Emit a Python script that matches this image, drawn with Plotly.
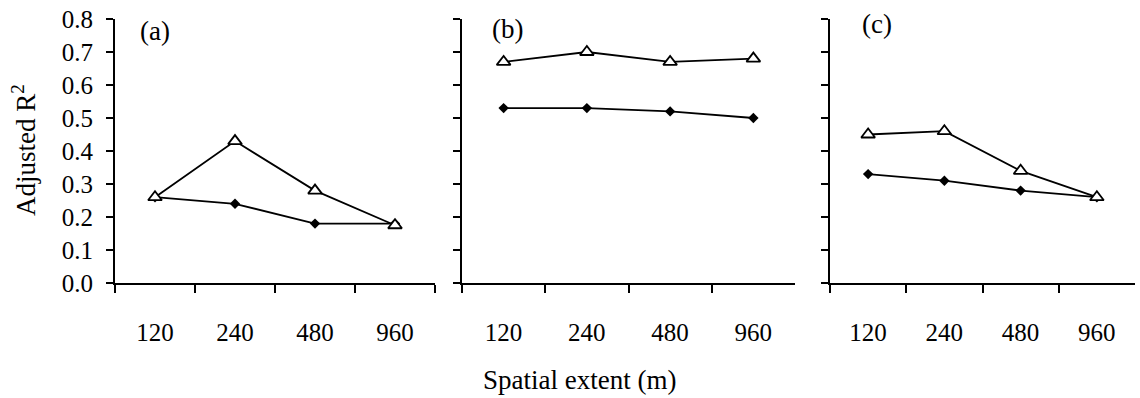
import plotly.graph_objects as go

extents = ["120", "240", "480", "960"]
panels = ["(a)", "(b)", "(c)"]
tri_vals = [
    [0.26, 0.43, 0.28, 0.175],
    [0.67, 0.70, 0.67, 0.68],
    [0.45, 0.46, 0.34, 0.26],
]
dia_vals = [
    [0.26, 0.24, 0.18, 0.18],
    [0.53, 0.53, 0.52, 0.50],
    [0.33, 0.31, 0.28, 0.26],
]
y_ticks = [0.0, 0.1, 0.2, 0.3, 0.4, 0.5, 0.6, 0.7, 0.8]

W, H = 1140, 398
FONT = "Liberation Serif, Times New Roman, serif"
x_doms_px = [(115, 435), (462, 795), (830, 1135)]
y_top_px, y_bot_px = 19, 283
ydom = [1 - y_bot_px / H, 1 - y_top_px / H]

fig = go.Figure()
for i in range(3):
    xa = "x" if i == 0 else f"x{i+1}"
    ya = "y" if i == 0 else f"y{i+1}"
    fig.add_trace(go.Scatter(
        x=extents, y=dia_vals[i], xaxis=xa, yaxis=ya, mode="lines+markers",
        line=dict(color="black", width=1.8),
        marker=dict(symbol="diamond", size=8, color="black"),
        showlegend=False, cliponaxis=False))
    fig.add_trace(go.Scatter(
        x=extents, y=tri_vals[i], xaxis=xa, yaxis=ya, mode="lines+markers",
        line=dict(color="black", width=1.8),
        marker=dict(symbol="triangle-up", size=12, color="white",
                    line=dict(color="black", width=1.8)),
        showlegend=False, cliponaxis=False))

layout = dict(
    width=W, height=H, margin=dict(l=0, r=0, t=0, b=0, autoexpand=False),
    paper_bgcolor="white", plot_bgcolor="white",
    font=dict(family=FONT, color="black", size=25),
    showlegend=False,
)
for i in range(3):
    xk = "xaxis" if i == 0 else f"xaxis{i+1}"
    yk = "yaxis" if i == 0 else f"yaxis{i+1}"
    yname = "y" if i == 0 else f"y{i+1}"
    xname = "x" if i == 0 else f"x{i+1}"
    x0, x1 = x_doms_px[i]
    layout[xk] = dict(
        domain=[x0 / W, x1 / W], anchor=yname, type="category",
        categoryorder="array", categoryarray=extents,
        range=[-0.5, 3.5], tickson="boundaries", ticks="outside",
        ticklen=8, tickwidth=1.5, tickcolor="black",
        showline=True, linecolor="black", linewidth=1.8,
        showgrid=False, zeroline=False, ticklabelstandoff=26,
        automargin=False,
        tickfont=dict(family=FONT, size=25, color="black"),
    )
    layout[yk] = dict(
        domain=ydom, anchor=xname, range=[0, 0.8],
        tickvals=y_ticks, ticktext=[f"{v:.1f}" for v in y_ticks],
        ticks="outside", ticklen=7, tickwidth=1.5, tickcolor="black",
        showline=True, linecolor="black", linewidth=1.8,
        showgrid=False, zeroline=False, showticklabels=(i == 0),
        ticklabelstandoff=8, automargin=False,
        tickfont=dict(family=FONT, size=25, color="black"),
    )
fig.update_layout(**layout)

label_pos = [(155, 31), (507, 29), (877, 24)]
for i, (px, py) in enumerate(label_pos):
    fig.add_annotation(text=panels[i], x=px / W, y=1 - py / H, xref="paper", yref="paper",
                       showarrow=False, xanchor="center", yanchor="middle",
                       font=dict(family=FONT, size=27, color="black"))

fig.add_annotation(text="Adjusted R<sup>2</sup>", x=24 / W, y=1 - 150 / H,
                   xref="paper", yref="paper", showarrow=False, textangle=-90,
                   xanchor="center", yanchor="middle",
                   font=dict(family=FONT, size=27, color="black"))
fig.add_annotation(text="Spatial extent (m)", x=579 / W, y=1 - 380 / H,
                   xref="paper", yref="paper", showarrow=False,
                   xanchor="center", yanchor="middle",
                   font=dict(family=FONT, size=27, color="black"))

fig.write_html("out.html")
